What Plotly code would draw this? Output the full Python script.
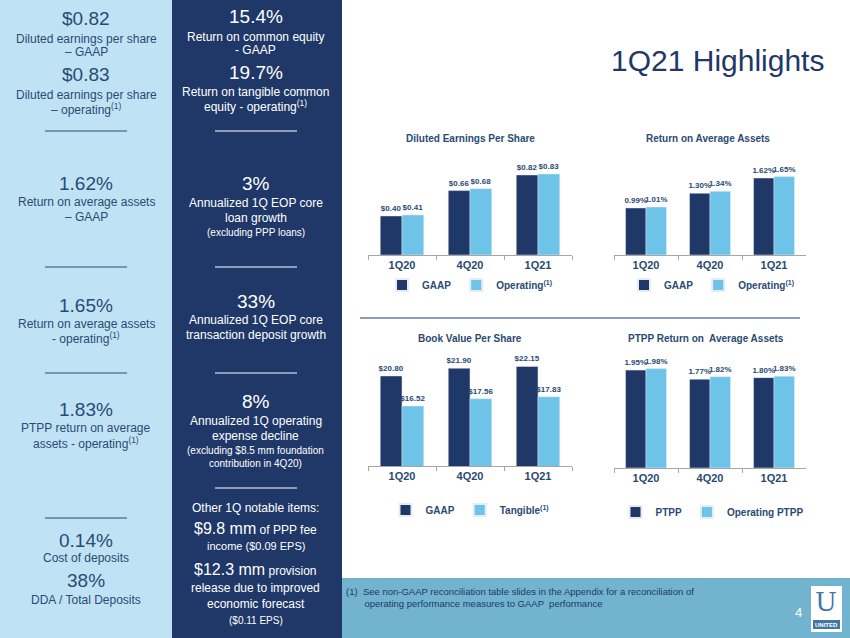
import plotly.graph_objects as go

W = 850
H = 638

quarters = ['1Q20', '4Q20', '1Q21']

eps_gaap = [0.40, 0.66, 0.82]
eps_oper = [0.41, 0.68, 0.83]

roa_gaap = [0.99, 1.30, 1.62]
roa_oper = [1.01, 1.34, 1.65]

bv_gaap = [20.80, 21.90, 22.15]
bv_tang = [16.52, 17.56, 17.83]

ptpp = [1.95, 1.77, 1.80]
ptpp_oper = [1.98, 1.82, 1.83]

navy = '#1F3868'
light = '#6EC3E8'
text_blue = '#2B4A73'


def px(v, total):  # pixel to paper
    return v / total


def ypx(v):
    return 1 - v / H


fig = go.Figure()

# ---- backgrounds ----
fig.add_shape(type='rect', xref='paper', yref='paper', x0=0, x1=px(172, W), y0=0, y1=1,
              fillcolor='#BFE3F5', line_width=0, layer='below')
fig.add_shape(type='rect', xref='paper', yref='paper', x0=px(172, W), x1=px(342, W), y0=0, y1=1,
              fillcolor=navy, line_width=0, layer='below')
fig.add_shape(type='rect', xref='paper', yref='paper', x0=px(342, W), x1=1, y0=0, y1=ypx(578),
              fillcolor='#72B3CF', line_width=0, layer='below')
fig.add_shape(type='line', xref='paper', yref='paper', x0=px(360, W), x1=px(800, W), y0=ypx(318), y1=ypx(318),
              line=dict(color=navy, width=1))

# ---- charts ----
charts = [
    ('x', 'y', eps_gaap, eps_oper, 'GAAP', 'Operating<sup>(1)</sup>', '${:.2f}', 'legend'),
    ('x2', 'y2', roa_gaap, roa_oper, 'GAAP', 'Operating<sup>(1)</sup>', '{:.2f}%', 'legend2'),
    ('x3', 'y3', bv_gaap, bv_tang, 'GAAP', 'Tangible<sup>(1)</sup>', '${:.2f}', 'legend3'),
    ('x4', 'y4', ptpp, ptpp_oper, 'PTPP', 'Operating PTPP', '{:.2f}%', 'legend4'),
]

for xa, ya, s1, s2, n1, n2, fmt, lg in charts:
    for vals, name, col in [(s1, n1, navy), (s2, n2, light)]:
        fig.add_trace(go.Bar(x=quarters, y=vals, name=name, xaxis=xa, yaxis=ya, marker_color=col,
                             text=['<b>' + fmt.format(v) + '</b>' for v in vals], textposition='outside',
                             textfont=dict(size=8, color=text_blue, family='Liberation Sans'),
                             constraintext='none', cliponaxis=False, legend=lg))

axis_x = dict(showgrid=False, showline=True, linecolor='#A6A6A6', ticks='outside', tickson='boundaries',
              ticklen=4, tickcolor='#A6A6A6',
              tickfont=dict(size=11, color=text_blue, family='Liberation Sans', weight='bold'))
axis_y = dict(visible=False, showgrid=False)

fig.update_layout(
    width=W, height=H, margin=dict(l=0, r=0, t=0, b=0),
    paper_bgcolor='white', plot_bgcolor='rgba(0,0,0,0)',
    barmode='group', bargap=0.36, bargroupgap=0, showlegend=True,
    font=dict(family='Liberation Sans', color=text_blue),
    xaxis=dict(axis_x, domain=[px(368, W), px(572, W)], anchor='y'),
    yaxis=dict(axis_y, domain=[ypx(255), ypx(150)], range=[0, 1.076], anchor='x'),
    xaxis2=dict(axis_x, domain=[px(614, W), px(806, W)], anchor='y2'),
    yaxis2=dict(axis_y, domain=[ypx(255), ypx(150)], range=[0, 2.21], anchor='x2'),
    xaxis3=dict(axis_x, domain=[px(368, W), px(572, W)], anchor='y3'),
    yaxis3=dict(axis_y, domain=[ypx(466), ypx(345)], range=[8, 25.2], anchor='x3'),
    xaxis4=dict(axis_x, domain=[px(614, W), px(806, W)], anchor='y4'),
    yaxis4=dict(axis_y, domain=[ypx(468), ypx(345)], range=[0, 2.45], anchor='x4'),
)

leg = dict(orientation='h', xanchor='center', yanchor='middle', bgcolor='rgba(0,0,0,0)',
           font=dict(size=10, color=text_blue, weight='bold'), itemwidth=30, traceorder='normal',
           entrywidth=0, itemsizing='constant')
fig.update_layout(
    legend=dict(leg, x=px(470, W), y=ypx(285)),
    legend2=dict(leg, x=px(712, W), y=ypx(285)),
    legend3=dict(leg, x=px(470, W), y=ypx(510)),
    legend4=dict(leg, x=px(712, W), y=ypx(512)),
)

# ---- chart titles ----
for t, x, y in [('Diluted Earnings Per Share', 470, 139), ('Return on Average Assets', 708, 139),
                ('Book Value Per Share', 470, 338), ('PTPP Return on  Average Assets', 706, 338)]:
    fig.add_annotation(text='<b>' + t + '</b>', x=px(x, W), y=ypx(y), xref='paper', yref='paper',
                       xanchor='center', yanchor='middle', showarrow=False, font=dict(size=10, color=text_blue))

fig.add_annotation(text='1Q21 Highlights', x=px(826, W), y=ypx(60), xref='paper', yref='paper',
                   xanchor='right', yanchor='middle', showarrow=False, font=dict(size=30, color=navy))

# ---- side panels ----
left = [
    ('$0.82', 18, 19), ('Diluted earnings per share', 39, 12), ('– GAAP', 52, 12),
    ('$0.83', 74, 19), ('Diluted earnings per share', 95, 12), ('– operating<sup>(1)</sup>', 109, 12),
    ('1.62%', 183, 19), ('Return on average assets', 202, 12), ('– GAAP', 217, 12),
    ('1.65%', 305, 19), ('Return on average assets', 324, 12), ('- operating<sup>(1)</sup>', 338, 12),
    ('1.83%', 409, 19), ('PTPP return on average', 428, 12), ('assets - operating<sup>(1)</sup>', 443, 12),
    ('0.14%', 540, 19), ('Cost of deposits', 558, 12), ('38%', 580, 19), ('DDA / Total Deposits', 600, 12),
]
right = [
    ('15.4%', 16, 19), ('Return on common equity', 37, 12), ('- GAAP', 50, 12),
    ('19.7%', 72, 19), ('Return on tangible common', 92, 12), ('equity - operating<sup>(1)</sup>', 106, 12),
    ('3%', 183, 19), ('Annualized 1Q EOP core', 203, 12), ('loan growth', 218, 12),
    ('(excluding PPP loans)', 232, 10),
    ('33%', 301, 19), ('Annualized 1Q EOP core', 320, 12), ('transaction deposit growth', 335, 12),
    ('8%', 401, 19), ('Annualized 1Q operating', 421, 12), ('expense decline', 436, 12),
    ('(excluding $8.5 mm foundation', 450, 10), ('contribution in 4Q20)', 463, 10),
    ('Other 1Q notable items:', 508, 12),
    ('<span style="font-size:16px">$9.8 mm</span> of PPP fee', 528, 12), ('income ($0.09 EPS)', 546, 11),
    ('<span style="font-size:16px">$12.3 mm</span> provision', 569, 12), ('release due to improved', 588, 12),
    ('economic forecast', 604, 12), ('($0.11 EPS)', 620, 10),
]
for items, cx, col in [(left, 86, text_blue), (right, 256, 'white')]:
    for t, y, s in items:
        fig.add_annotation(text=t, x=px(cx, W), y=ypx(y), xref='paper', yref='paper',
                           xanchor='center', yanchor='middle',
                           showarrow=False, font=dict(size=s, color=col))

for cx, col, ys in [(86, text_blue, [131, 267, 373, 518]), (256, 'white', [131, 267, 373, 488])]:
    for y in ys:
        fig.add_shape(type='line', xref='paper', yref='paper', x0=px(cx - 41, W), x1=px(cx + 41, W),
                      y0=ypx(y), y1=ypx(y), line=dict(color=col, width=1))

# ---- footer ----
fig.add_annotation(text='(1)  See non-GAAP reconciliation table slides in the Appendix for a reconciliation of<br>'
                        '       operating performance measures to GAAP  performance',
                   x=px(344, W), y=ypx(597), xref='paper', yref='paper', xanchor='left', yanchor='middle',
                   align='left', showarrow=False, font=dict(size=9.5, color=navy))
fig.add_annotation(text='4', x=px(798, W), y=ypx(612), xref='paper', yref='paper', xanchor='center',
                   yanchor='middle', showarrow=False, font=dict(size=13, color='white'))
fig.add_shape(type='rect', xref='paper', yref='paper', x0=px(811, W), x1=px(842, W), y0=ypx(632), y1=ypx(586),
              fillcolor='white', line_width=0)
fig.add_shape(type='rect', xref='paper', yref='paper', x0=px(813, W), x1=px(840, W), y0=ypx(629), y1=ypx(620),
              fillcolor='#3F78A8', line_width=0)
fig.add_annotation(text='U', x=px(826, W), y=ypx(602), xref='paper', yref='paper', showarrow=False,
                   xanchor='center', yanchor='middle', font=dict(size=26, color='#3F78A8', family='DejaVu Serif'))
fig.add_annotation(text='<b>UNITED</b>', x=px(826, W), y=ypx(624.5), xref='paper', yref='paper', showarrow=False,
                   xanchor='center', yanchor='middle', font=dict(size=6, color='white'))

fig.write_html("out.html", config={'displayModeBar': False},
               post_script="document.body.style.margin='0';")
